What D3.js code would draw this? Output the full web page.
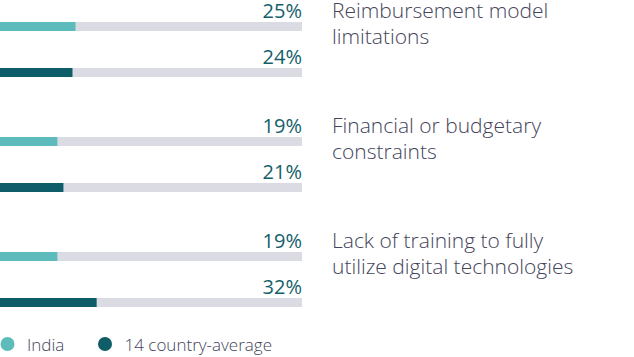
<!DOCTYPE html>
<html><head><meta charset="utf-8">
<script src="https://cdn.jsdelivr.net/npm/d3@7/dist/d3.min.js"></script>
<style>body{margin:0;background:#fff}svg{display:block}text{font-family:"Open Sans",sans-serif}</style>
</head><body><svg id="c" width="634" height="357"></svg>
<script>
const categories = [["Reimbursement model","limitations"],["Financial or budgetary","constraints"],["Lack of training to fully","utilize digital technologies"]];
const seriesNames = ["India","14 country-average"];
const india = [25,19,19];
const average = [24,21,32];
const colors = ["#5dbbbb","#0f5d68"];

const svg = d3.select("#c");
const x = d3.scaleLinear().domain([0,100]).range([0,302]);
const gy = d3.scaleBand().domain(d3.range(categories.length)).range([22,367]).paddingInner(0).paddingOuter(0);
const barH = 9, sub = 46;
const series = [india, average];

categories.forEach((cat,i)=>{
  const g = svg.append("g").attr("transform",`translate(0,${gy(i)})`);
  series.forEach((s,j)=>{
    const y = j*sub;
    g.append("rect").attr("x",0).attr("y",y).attr("width",x(100)).attr("height",barH).attr("fill","#dbdbe4");
    g.append("rect").attr("x",0).attr("y",y).attr("width",x(s[i])).attr("height",barH).attr("fill",colors[j]);
    g.append("text").attr("x",x(100)).attr("y",y-4.5).attr("text-anchor","end").attr("font-size",20).attr("font-weight",400).attr("fill","#145f6a").text(s[i]+"%");
  });
  const t = g.append("text").attr("x",332).attr("y",-4.5).attr("font-size",21).attr("font-weight",300).attr("fill","#44445a");
  cat.forEach((line,k)=>t.append("tspan").attr("x",332).attr("dy",k?26:0).text(line));
});

const leg = svg.append("g").attr("transform","translate(0,344)");
const lx = [7.5,105];
seriesNames.forEach((n,j)=>{
  leg.append("circle").attr("cx",lx[j]).attr("cy",0).attr("r",7).attr("fill",colors[j]);
  leg.append("text").attr("x",lx[j]+19.5).attr("y",6.5).attr("font-size",17).attr("font-weight",300).attr("fill","#44445a").text(n);
});
</script></body></html>
